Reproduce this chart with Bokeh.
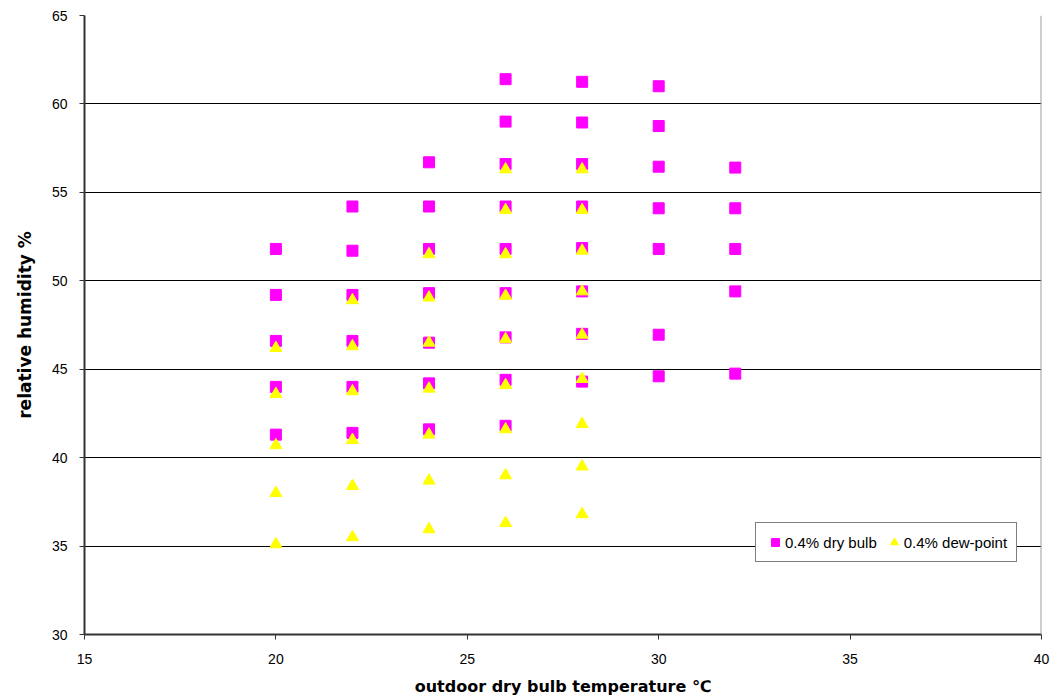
from bokeh.plotting import figure
from bokeh.models import ColumnDataSource, FixedTicker, Legend, LegendItem, Span
from bokeh.embed import file_html
from bokeh.resources import INLINE

# 0.4% dry bulb series
dry_temp = [20]*5 + [22]*6 + [24]*7 + [26]*9 + [28]*8 + [30]*7 + [32]*5
dry_rh = [51.8, 49.2, 46.6, 44.0, 41.3,
          54.2, 51.7, 49.2, 46.6, 44.0, 41.4,
          56.7, 54.2, 51.8, 49.3, 46.5, 44.2, 41.6,
          61.4, 59.0, 56.6, 54.2, 51.8, 49.3, 46.8, 44.4, 41.8,
          61.25, 58.95, 56.6, 54.2, 51.85, 49.4, 47.0, 44.3,
          61.0, 58.75, 56.45, 54.1, 51.8, 46.95, 44.6,
          56.4, 54.1, 51.8, 49.4, 44.75]

# 0.4% dew-point series
dew_temp = [20]*5 + [22]*6 + [24]*7 + [26]*9 + [28]*9
dew_rh = [46.2, 43.6, 40.7, 38.0, 35.1,
          48.9, 46.3, 43.75, 41.0, 38.4, 35.5,
          51.5, 49.05, 46.5, 43.9, 41.3, 38.7, 35.95,
          56.3, 54.0, 51.5, 49.15, 46.7, 44.1, 41.6, 39.0, 36.3,
          56.3, 54.0, 51.7, 49.4, 46.95, 44.45, 41.9, 39.5, 36.8]

x_ticks = [15, 20, 25, 30, 35, 40]
y_ticks = [30, 35, 40, 45, 50, 55, 60, 65]
grid_ticks = [35, 40, 45, 50, 55, 60]

p = figure(width=1054, height=700, x_range=(15, 40), y_range=(30, 65),
           output_backend="svg", toolbar_location=None,
           min_border_left=84, min_border_right=13, min_border_top=15, min_border_bottom=66)
p.outline_line_color = None
p.background_fill_color = "white"
p.border_fill_color = "white"

src_dry = ColumnDataSource(dict(x=dry_temp, y=dry_rh))
src_dew = ColumnDataSource(dict(x=dew_temp, y=dew_rh))

r1 = p.scatter("x", "y", source=src_dry, marker="square", size=11,
               fill_color="#FF00FF", line_color="#FF00FF")
r2 = p.scatter("x", "y", source=src_dew, marker="triangle", size=12,
               fill_color="#FFFF00", line_color="#FFFF00")

p.xgrid.visible = False
p.ygrid.ticker = FixedTicker(ticks=grid_ticks)
p.ygrid.grid_line_color = "black"
p.ygrid.grid_line_width = 1

p.add_layout(Span(location=40, dimension="height", line_color="#a0a0a0", line_width=2))

for ax in (p.xaxis[0], p.yaxis[0]):
    ax.axis_line_color = "#333333"
    ax.axis_line_width = 2
    ax.major_tick_line_color = "#333333"
    ax.major_tick_line_width = 1
    ax.major_tick_out = 5
    ax.major_tick_in = 0
    ax.minor_tick_line_color = None
    ax.major_label_text_font = "Liberation Sans"
    ax.major_label_text_font_size = "14px"
    ax.major_label_text_color = "black"
    ax.axis_label_text_font = "DejaVu Sans"
    ax.axis_label_text_font_style = "bold"
    ax.axis_label_text_color = "black"

p.xaxis[0].ticker = FixedTicker(ticks=x_ticks)
p.yaxis[0].ticker = FixedTicker(ticks=y_ticks)
p.xaxis[0].axis_label = "outdoor dry bulb temperature \u2103"
p.yaxis[0].axis_label = "relative humidity %"
p.xaxis[0].axis_label_text_font_size = "16px"
p.yaxis[0].axis_label_text_font_size = "17px"
p.xaxis[0].major_label_standoff = 14
p.xaxis[0].axis_label_standoff = 10
p.yaxis[0].major_label_standoff = 12
p.yaxis[0].axis_label_standoff = 14

legend = Legend(items=[LegendItem(label="0.4% dry bulb", renderers=[r1]),
                       LegendItem(label="0.4% dew-point", renderers=[r2])],
                orientation="horizontal", location=(671, 72))
legend.border_line_color = "black"
legend.border_line_width = 1
legend.background_fill_color = "white"
legend.background_fill_alpha = 1
legend.label_text_font = "Liberation Sans"
legend.label_text_font_size = "15px"
legend.label_text_color = "black"
legend.glyph_width = 20
legend.glyph_height = 20
legend.spacing = 7
legend.padding = 9
legend.margin = 0
legend.label_standoff = 0
p.add_layout(legend, "center")

open("out.html", "w").write(file_html(p, INLINE))
